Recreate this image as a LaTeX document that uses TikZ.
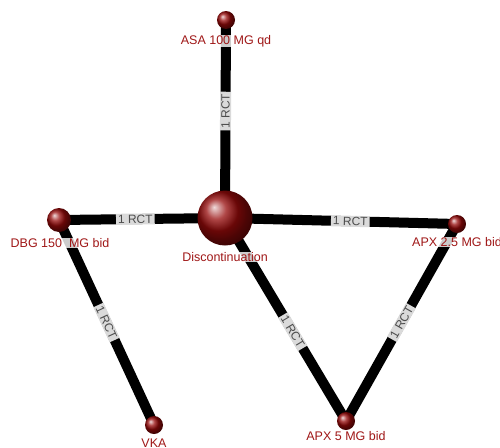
\documentclass[tikz,border=0pt]{standalone}
\usepackage{fontspec}
\setmainfont{Liberation Sans}
\definecolor{lbl}{RGB}{160,24,24}
\definecolor{ballc}{RGB}{150,10,10}
\definecolor{edgelbl}{RGB}{218,218,218}
\begin{document}
\begin{tikzpicture}[x=1pt,y=-1pt,
  edge/.style={line width=10pt,black},
  rct/.style={fill=edgelbl,text=black!70,inner xsep=2pt,inner ysep=0pt,
    font=\fontsize{12}{12}\selectfont,sloped,minimum height=11pt},
  ballnode/.style={circle,shading=ball,ball color=ballc,inner sep=0pt},
  nlabel/.style={text=lbl,font=\fontsize{12.5}{13}\selectfont,fill=white,
    fill opacity=0.8,text opacity=1,inner sep=0.5pt}]
\useasboundingbox (0,0) rectangle (500,447);
\coordinate (asa) at (226,20);
\coordinate (disc) at (225,218);
\coordinate (dbg) at (59,220);
\coordinate (apxa) at (457,224);
\coordinate (vka) at (154,425);
\coordinate (apxb) at (346,421);
\draw[edge] (disc) -- node[rct,pos=0.54]{1 RCT} (asa);
\draw[edge] (dbg) -- node[rct,pos=0.46]{1 RCT} (disc);
\draw[edge] (disc) -- node[rct,pos=0.54]{1 RCT} (apxa);
\draw[edge] (dbg) -- node[rct,pos=0.5]{1 RCT} (vka);
\draw[edge] (disc) -- node[rct,pos=0.56]{1 RCT} (apxb);
\draw[edge] (apxb) -- node[rct,pos=0.5]{1 RCT} (apxa);
\node[ballnode,minimum size=18pt] (nasa) at (asa) {};
\node[ballnode,minimum size=55pt] (ndisc) at (disc) {};
\node[ballnode,minimum size=24pt] (ndbg) at (dbg) {};
\node[ballnode,minimum size=18pt] (napxa) at (apxa) {};
\node[ballnode,minimum size=18pt] (nvka) at (vka) {};
\node[ballnode,minimum size=18pt] (napxb) at (apxb) {};
\node[nlabel] (tasa) at (226,41) {ASA 100 MG qd};
\node[nlabel] (tdisc) at (225,257) {Discontinuation};
\node[nlabel] (tdbg) at (60,243) {DBG 150\ \ MG bid};
\node[nlabel] (tapxa) at (457,242) {APX 2.5 MG bid};
\node[nlabel] (tvka) at (154,443) {VKA};
\node[nlabel] (tapxb) at (346,436) {APX 5 MG bid};
\end{tikzpicture}
\end{document}
